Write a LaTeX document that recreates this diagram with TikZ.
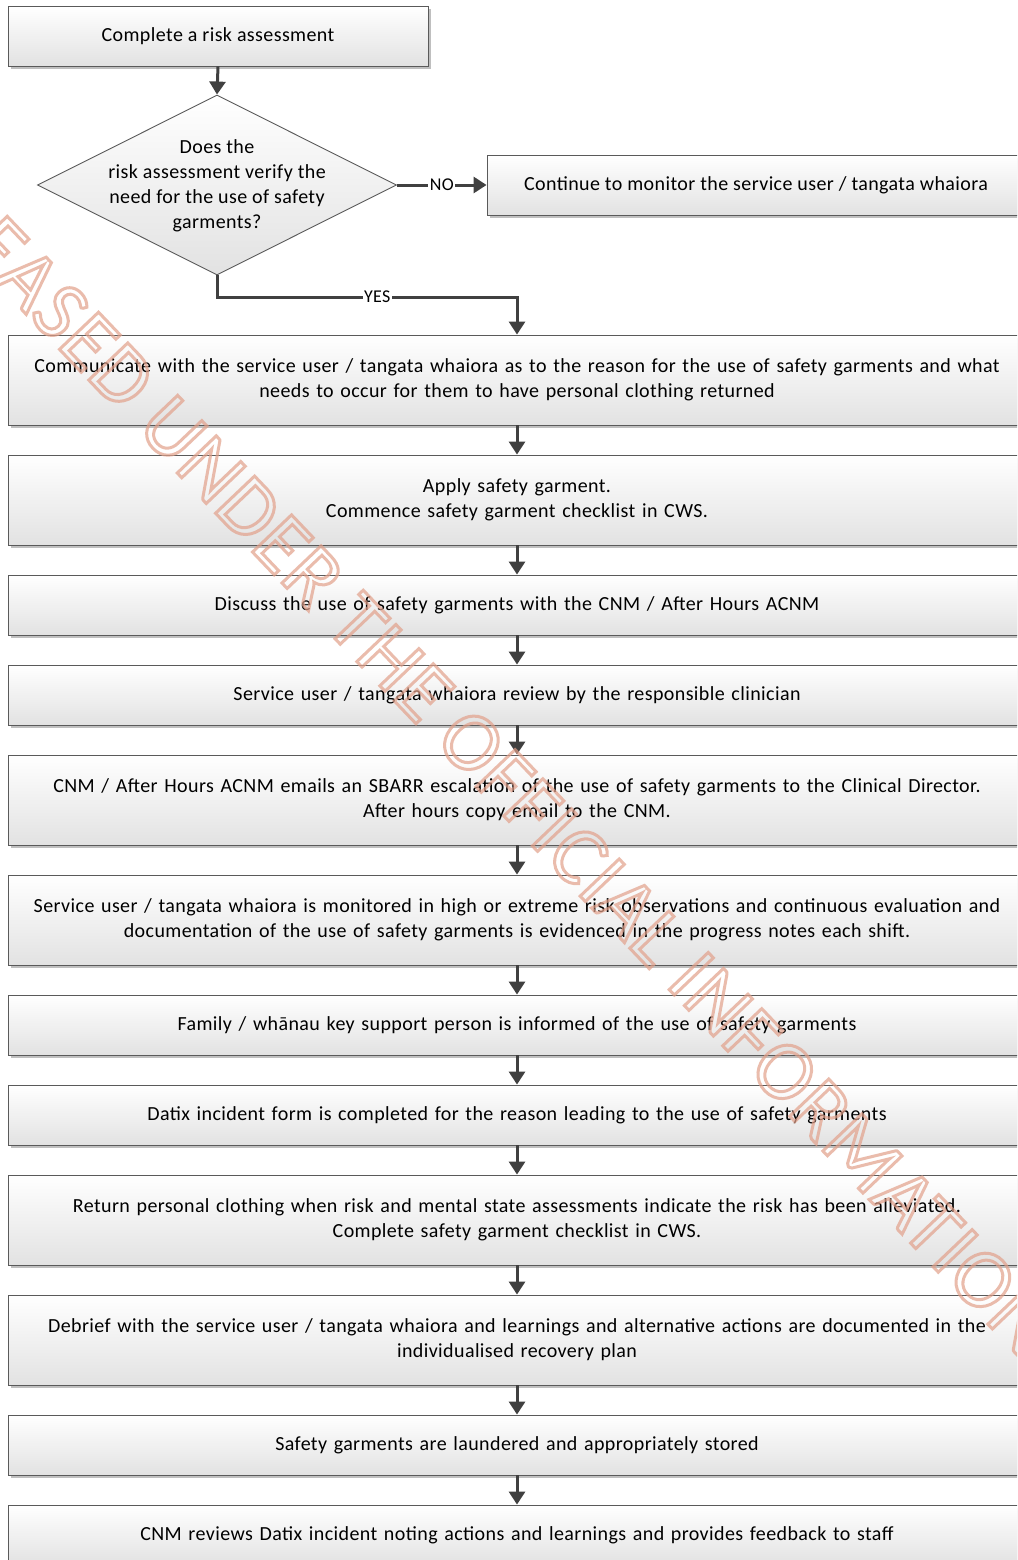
\documentclass[tikz,border=0pt]{standalone}
\usepackage{fontspec}
\setmainfont{Carlito}[LetterSpace=2]
\usetikzlibrary{arrows.meta,shapes.geometric,shadows}
\definecolor{boxline}{RGB}{90,90,90}
\definecolor{boxbot}{RGB}{226,226,226}
\definecolor{arrgray}{RGB}{64,64,64}
\definecolor{wmark}{RGB}{226,160,138}
\newcommand\outlinetext[1]{\special{pdf:code q 1 Tr 3 w}#1\special{pdf:code Q}}
\tikzset{
  stepbox/.style={draw=boxline, line width=0.9pt, top color=white, bottom color=boxbot,
    general shadow={fill=black!25, shadow xshift=3pt, shadow yshift=-3pt},
    align=center, inner sep=0pt, font=\fontsize{20}{25}\selectfont},
  mainbox/.style={stepbox, minimum width=1018pt, text width=1010pt},
  arr/.style={draw=arrgray, line width=3pt, -{Triangle[width=16pt,length=13pt]}},
  lbl/.style={fill=white, inner sep=1.5pt, font=\fontsize{18}{20}\selectfont, text=black}
}
\begin{document}
\begin{tikzpicture}[x=1pt,y=-1pt]
\useasboundingbox (0,0) rectangle (1017,1560);
\clip (0,0) rectangle (1017,1560);
\fill[white] (0,0) rectangle (1017,1560);

\node[stepbox, minimum width=420pt, minimum height=60pt] (b1) at (218,36) {Complete a risk assessment};
\node[draw=boxline, line width=0.9pt, top color=white, bottom color=boxbot, shape=diamond, aspect=2, minimum width=359pt, minimum height=180pt, inner sep=0pt] (dq) at (217,185) {};
\node[align=center, font=\fontsize{20}{25}\selectfont] (dqt) at (217,186) {Does the\\risk assessment verify the\\need for the use of safety\\garments?};
\node[stepbox, minimum width=538pt, minimum height=60pt] (cont) at (756,185) {Continue to monitor the service user / tangata whaiora};

\node[mainbox, minimum height=90pt] (c1) at (517,380) {Communicate with the service user / tangata whaiora as to the reason for the use of safety garments and what\\needs to occur for them to have personal clothing returned};
\node[mainbox, minimum height=90pt] (c2) at (517,500) {Apply safety garment.\\Commence safety garment checklist in CWS.};
\node[mainbox, minimum height=60pt] (c3) at (517,605) {Discuss the use of safety garments with the CNM / After Hours ACNM};
\node[mainbox, minimum height=60pt] (c4) at (517,695) {Service user / tangata whaiora review by the responsible clinician};
\node[mainbox, minimum height=90pt] (c5) at (517,800) {CNM / After Hours ACNM emails an SBARR escalation of the use of safety garments to the Clinical Director.\\After hours copy email to the CNM.};
\node[mainbox, minimum height=90pt] (c6) at (517,920) {Service user / tangata whaiora is monitored in high or extreme risk observations and continuous evaluation and\\documentation of the use of safety garments is evidenced in the progress notes each shift.};
\node[mainbox, minimum height=60pt] (c7) at (517,1025) {Family / wh\={a}nau key support person is informed of the use of safety garments};
\node[mainbox, minimum height=60pt] (c8) at (517,1115) {Datix incident form is completed for the reason leading to the use of safety garments};
\node[mainbox, minimum height=90pt] (c9) at (517,1220) {Return personal clothing when risk and mental state assessments indicate the risk has been alleviated.\\Complete safety garment checklist in CWS.};
\node[mainbox, minimum height=90pt] (c10) at (517,1340) {Debrief with the service user / tangata whaiora and learnings and alternative actions are documented in the\\individualised recovery plan};
\node[mainbox, minimum height=60pt] (c11) at (517,1445) {Safety garments are laundered and appropriately stored};
\node[mainbox, minimum height=60pt] (c12) at (517,1535) {CNM reviews Datix incident noting actions and learnings and provides feedback to staff};

\draw[arr] (b1.south) -- (dq.north);
\draw[arr] (dq.east) -- node[lbl] {NO} (cont.west);
\coordinate (ybend) at (517,297);
\draw[arr] (dq.south) |- node[lbl, pos=0.767] {YES} (ybend) -- (c1.north);
\foreach \a/\b in {c1/c2,c2/c3,c3/c4,c4/c5,c5/c6,c6/c7,c7/c8,c8/c9,c9/c10,c10/c11,c11/c12}
  \draw[arr] (\a.south) -- (\b.north);

\node[rotate=-46.4, text=wmark, opacity=0.7, inner sep=0pt, font=\fontsize{84}{84}\selectfont] (wm) at (523,797) {\outlinetext{RELEASED UNDER THE OFFICIAL INFORMATION ACT}};
\end{tikzpicture}
\end{document}
